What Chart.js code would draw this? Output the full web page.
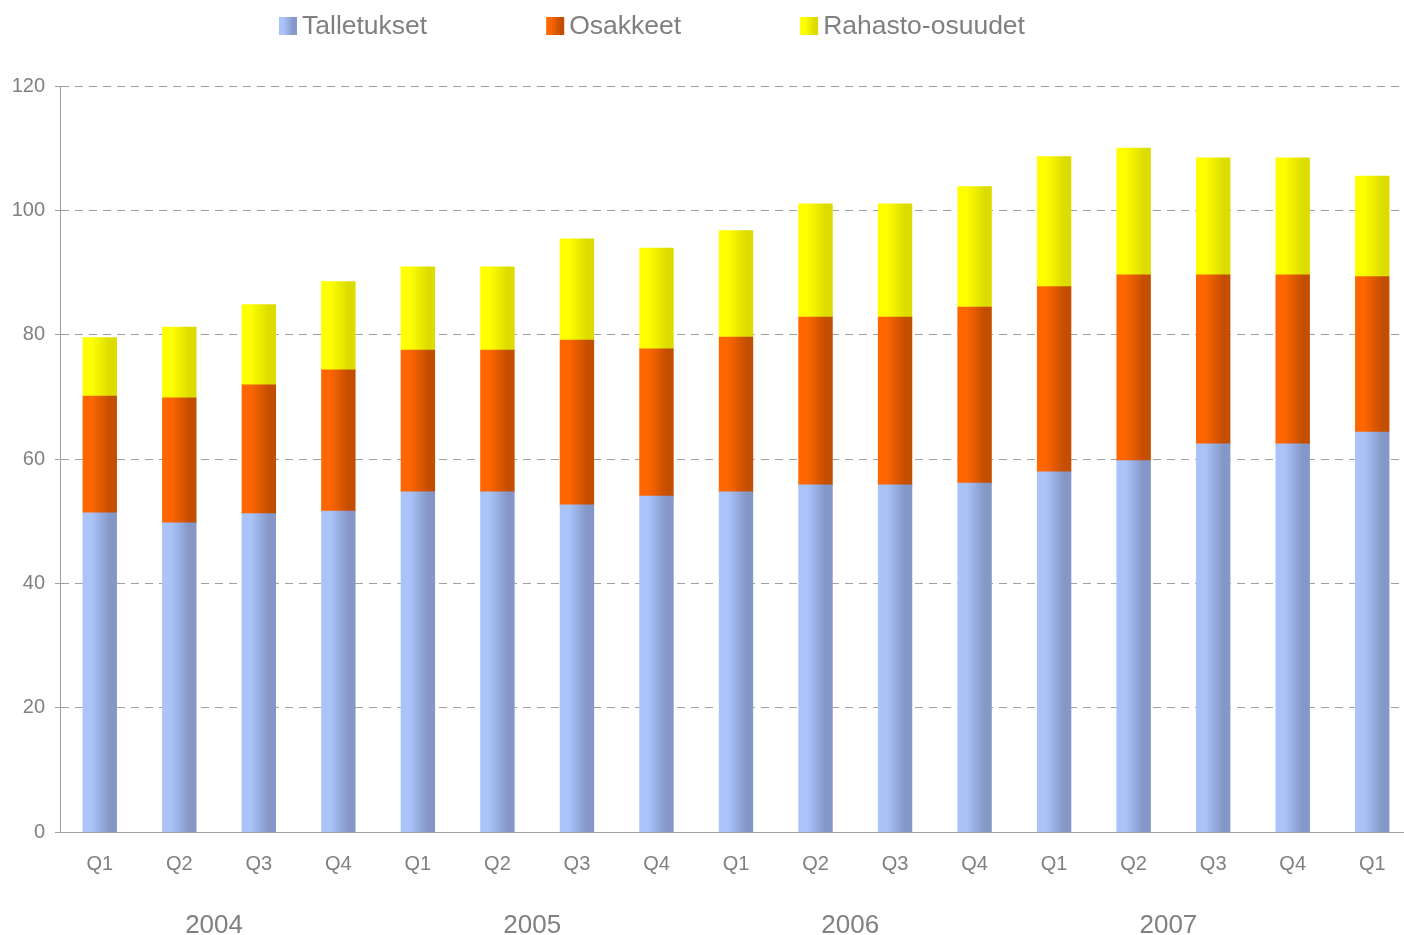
<!DOCTYPE html>
<html>
<head>
<meta charset="utf-8">
<script src="https://cdn.jsdelivr.net/npm/chart.js@4/dist/chart.umd.min.js"></script>
<style>
  html, body { margin: 0; padding: 0; background: #fff; overflow: hidden; }
  #chart { display: block; }
</style>
</head>
<body>
<canvas id="chart" width="1412" height="935"></canvas>
<script>
// quarters and years
const quarters = ['Q1', 'Q2', 'Q3', 'Q4', 'Q1', 'Q2', 'Q3', 'Q4', 'Q1', 'Q2', 'Q3', 'Q4', 'Q1', 'Q2', 'Q3', 'Q4', 'Q1'];
const years = ['2004', '2005', '2006', '2007'];
const yearTicks = [1.5, 5.5, 9.5, 13.5];
const yTicks = [0, 20, 40, 60, 80, 100, 120];

// series (stacked)
const talletukset = [51.3, 49.7, 51.2, 51.6, 54.7, 54.7, 52.6, 54.0, 54.7, 55.8, 55.8, 56.1, 57.9, 59.7, 62.4, 62.4, 64.3];
const osakkeet = [18.8, 20.1, 20.7, 22.7, 22.8, 22.8, 26.5, 23.7, 24.9, 27.0, 27.0, 28.3, 29.8, 29.9, 27.2, 27.2, 25.0];
const rahasto = [9.4, 11.4, 12.9, 14.2, 13.4, 13.4, 16.3, 16.2, 17.1, 18.2, 18.2, 19.4, 20.9, 20.4, 18.8, 18.8, 16.2];

const seriesNames = ['Talletukset', 'Osakkeet', 'Rahasto-osuudet'];
const palette = [
  ['#aac4fa', '#8497c6'],
  ['#ff6600', '#c44e00'],
  ['#ffff00', '#dcdc00']
];

const BAR_PCT = 0.42;
const GRAY = '#808080';
const LINE = '#a0a0a0';
const FONT = 'Liberation Sans, Arial, sans-serif';

function barGradient(ctx, x0, x1, cols) {
  const g = ctx.createLinearGradient(x0, 0, x1, 0);
  g.addColorStop(0, cols[0]);
  g.addColorStop(0.25, cols[0]);
  g.addColorStop(0.8, cols[1]);
  g.addColorStop(1, cols[1]);
  return g;
}

function makeFill(cols) {
  return (c) => {
    const xs = c.chart.scales.x;
    if (c.type !== 'data' || !xs) return cols[0];
    const cx = xs.getPixelForValue(c.dataIndex);
    const w = xs.width / quarters.length * BAR_PCT;
    if (!isFinite(cx) || !isFinite(w) || w <= 0) return cols[0];
    return barGradient(c.chart.ctx, cx - w / 2, cx + w / 2, cols);
  };
}

// legend drawn by hand so it sits where the original one does
const legendPlugin = {
  id: 'topLegend',
  afterDraw(chart) {
    const ctx = chart.ctx;
    ctx.save();
    ctx.font = '26.5px ' + FONT;
    ctx.textBaseline = 'middle';
    let x = 279;
    const y = 26;
    seriesNames.forEach((name, i) => {
      ctx.fillStyle = barGradient(ctx, x, x + 18, palette[i]);
      ctx.fillRect(x, y - 9, 18, 18);
      ctx.fillStyle = GRAY;
      ctx.fillText(name, x + 23, y + 1);
      x += 23 + ctx.measureText(name).width + 119;
    });
    ctx.restore();
  }
};

const datasets = [talletukset, osakkeet, rahasto].map((data, i) => ({
  label: seriesNames[i],
  data: data,
  backgroundColor: makeFill(palette[i]),
  borderWidth: 0,
  inflateAmount: 0.5,
  categoryPercentage: 1,
  barPercentage: BAR_PCT
}));

new Chart(document.getElementById('chart'), {
  type: 'bar',
  data: { labels: quarters, datasets: datasets },
  plugins: [legendPlugin],
  options: {
    responsive: false,
    animation: false,
    layout: { padding: { top: 86, left: 0, right: 0, bottom: 0 } },
    plugins: {
      legend: { display: false },
      tooltip: { enabled: false }
    },
    scales: {
      x: {
        stacked: true,
        weight: 0,
        grid: { display: false },
        border: { display: true, color: LINE, width: 1 },
        ticks: { color: GRAY, font: { family: FONT, size: 20 }, padding: 12, maxRotation: 0, autoSkip: false },
        afterFit(s) { s.height = 60; }
      },
      x2: {
        type: 'linear',
        position: 'bottom',
        weight: 1,
        offset: false,
        min: -0.5,
        max: 16.5,
        grid: { display: false, offset: false },
        border: { display: false },
        afterBuildTicks(s) { s.ticks = yearTicks.map(v => ({ value: v })); },
        ticks: {
          color: GRAY,
          font: { family: FONT, size: 26 },
          padding: 10,
          labelOffset: -5,
          maxRotation: 0,
          autoSkip: false,
          callback: (v) => years[yearTicks.indexOf(v)]
        },
        afterFit(s) { s.height = 43; }
      },
      y: {
        stacked: true,
        min: 0,
        max: 120,
        afterBuildTicks(s) { s.ticks = yTicks.map(v => ({ value: v })); },
        grid: {
          color: LINE,
          tickLength: 5,
          tickColor: LINE,
          tickBorderDash: []
        },
        border: { display: true, color: LINE, width: 1, dash: [8, 6] },
        ticks: { color: GRAY, font: { family: FONT, size: 20 }, padding: 10 },
        afterFit(s) { s.width = 60; }
      }
    }
  }
});
</script>
</body>
</html>
